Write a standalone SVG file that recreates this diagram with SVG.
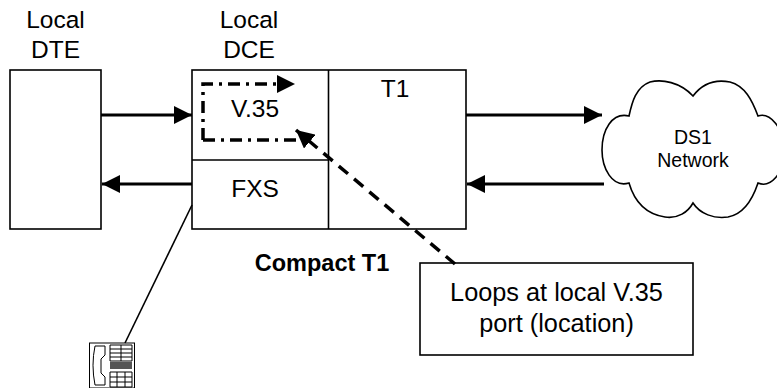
<svg xmlns="http://www.w3.org/2000/svg" width="777" height="388" viewBox="0 0 777 388">
<style>
text{font-family:"Liberation Sans",Arial,sans-serif;fill:#000;text-anchor:middle}
.t{font-size:24.5px}
.box{fill:#fff;stroke:#000;stroke-width:1.6}
.ln{fill:none;stroke:#000;stroke-width:1.6}
.a{fill:none;stroke:#000;stroke-width:3;marker-end:url(#h)}
.dd{fill:none;stroke:#000;stroke-width:3.5;stroke-dasharray:12 6 3 6}
.ph{fill:none;stroke:#000;stroke-width:1}
</style>
<defs>
<marker id="h" markerUnits="userSpaceOnUse" markerWidth="18" markerHeight="18" refX="18" refY="9" orient="auto"><path d="M0 0L18 9L0 18z" fill="#000"/></marker>
</defs>
<g id="dte"><rect class="box" x="10" y="70" width="91" height="159"/><text class="t" x="55.5" y="28">Local</text><text class="t" x="55.5" y="58">DTE</text></g>
<g id="dce"><rect class="box" x="192" y="70" width="274" height="159"/><path class="ln" d="M328.500 70V229M192 160H328.500"/><text class="t" x="249" y="28">Local</text><text class="t" x="249" y="58">DCE</text><text class="t" x="395" y="97">T1</text><text class="t" x="255" y="117">V.35</text><text class="t" x="255" y="197">FXS</text></g>
<g id="cloud"><path class="ln" d="M693 96C680 82 662 79 650 82C636 87 632 102 629 116C612 112 602 130 602 150C602 168 612 188 629 183C634 200 645 214 665 217C678 219 688 212 693 203C700 214 714 219 728 217C745 214 753 198 758 183C770 188 784 175 784 150C784 128 770 112 758 116C752 100 745 86 730 82C715 79 702 84 693 96Z"/><text x="693" y="144" font-size="19.500">DS1</text><text x="693" y="167" font-size="19.500">Network</text></g>
<g id="callout"><rect class="box" x="420" y="263" width="273" height="92"/><text x="556.500" y="301" font-size="25.300">Loops at local V.35</text><text x="556.500" y="332" font-size="25.300">port (location)</text></g>
<g id="label"><text x="322" y="271" font-size="23.500" font-weight="bold">Compact T1</text></g>
<g id="phone"><rect class="ph" x="89.500" y="343" width="45" height="45"/><path class="ph" d="M95 346H105V355L101 359V373L105 377V385H95Q91 365 95 346Z"/><path class="ph" d="M110 345H132V361H110ZM121 345V361M110 349H132M110 353H132M110 357H132M110 372H132V387H110ZM117 372V387M125 372V387M110 377H132M110 382H132"/><rect x="110" y="362" width="22" height="7" fill="#555"/></g>
<g id="connectors">
<path class="a" d="M101 115H192"/><path class="a" d="M192 184H102"/><path class="a" d="M466 115H602"/><path class="a" d="M604 184H467"/>
<path class="ln" d="M192 205L125 343"/>
<path class="dd" d="M203 140V84H277"/>
<path d="M277 75L295 84L277 93z" fill="#000"/>
<path class="dd" d="M203 140H298"/>
<path d="M455 264L296 130" fill="none" stroke="#000" stroke-width="3.500" stroke-dasharray="12 8" marker-end="url(#h)"/>
</g>
</svg>
